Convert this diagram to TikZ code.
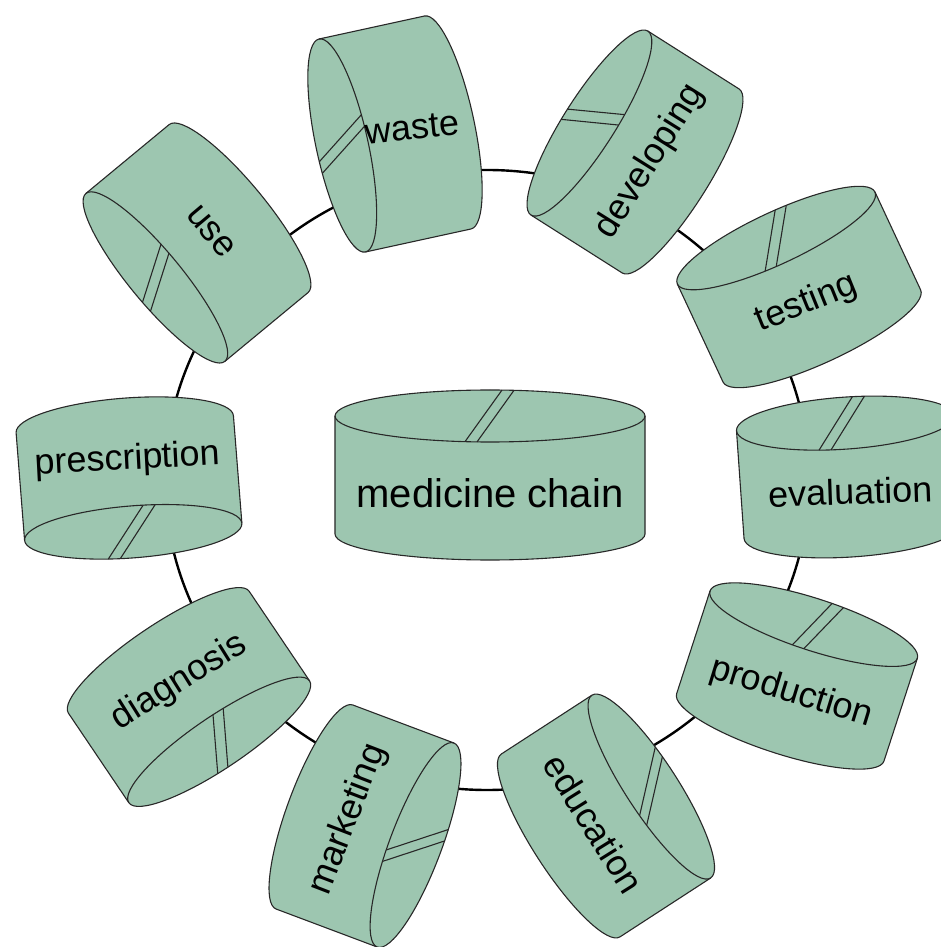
\documentclass[tikz,border=0pt]{standalone}
\usepackage{fontspec}
\setmainfont{Liberation Sans}
\definecolor{pillgreen}{RGB}{157,198,176}
\definecolor{pillline}{RGB}{40,40,40}

\tikzset{
  outerpill/.code={\def\pw{109}\def\ph{54}\def\pe{26}\def\pty{-18}\def\pxh{18.7pt}\def\pfont{\fontsize{36}{43}\selectfont}},
  centerpill/.code={\def\pw{155}\def\ph{59}\def\pe{26}\def\pty{-22.6}\def\pxh{20.8pt}\def\pfont{\fontsize{40}{48}\selectfont}},
  pillbody/.style={fill=pillgreen, draw=pillline, line width=1.1pt, line join=round},
  pilledge/.style={draw=pillline, line width=1.1pt},
  pilltext/.style={font=\pfont, inner sep=0pt, text height=\pxh, text depth=0pt},
  ringline/.style={line width=2.4pt}
}

% size, name, centre, shape angle, flip, text angle, score far x, score near x, text
\newcommand{\pill}[9]{%
  \begin{scope}[#1, shift={#3}, rotate=#4, yscale=#5]
    \draw[pillbody] (-\pw,\ph) -- (-\pw,-\ph)
      arc[start angle=180, end angle=360, x radius=\pw, y radius=\pe]
      -- (\pw,\ph)
      arc[start angle=0, end angle=180, x radius=\pw, y radius=\pe] -- cycle;
    \draw[pilledge] (-\pw,\ph) arc[start angle=180, end angle=360, x radius=\pw, y radius=\pe];
    \foreach \s in {0,12}
      \draw[pilledge] ({#7+\s},{\ph+\pe*sqrt(1-((#7+\s)/\pw)^2)})
        -- ({#8+\s},{\ph-\pe*sqrt(1-((#8+\s)/\pw)^2)});
    \node[pilltext, rotate=#6] (#2) at (0,\pty) {#9};
  \end{scope}}

\begin{document}
\begin{tikzpicture}[x=1pt, y=1pt]
  \useasboundingbox (-487,-467) rectangle (453,480);
  \coordinate (hub) at (0,0);
  \draw[ringline] (hub) ellipse [x radius=322, y radius=310];

  \pill{centerpill}{medchain}{(3,5)}{0}{1}{0}{12}{-25}{medicine chain}
  \pill{outerpill}{use}{(-290,237)}{-50.4}{-1}{-50}{11}{-22}{use}
  \pill{outerpill}{waste}{(-92,346)}{102.3}{1}{6}{-23}{14}{waste}
  \pill{outerpill}{developing}{(148,328)}{57.6}{1}{58}{-12}{14}{developing}
  \pill{outerpill}{testing}{(312,193)}{25}{1}{22}{11}{-24}{testing}
  \pill{outerpill}{evaluation}{(362,3)}{4}{1}{2}{9}{-28}{evaluation}
  \pill{outerpill}{production}{(310,-196)}{-18}{1}{-17}{11}{-14}{production}
  \pill{outerpill}{education}{(119,-336)}{-57}{1}{-58}{-31}{18}{education}
  \pill{outerpill}{marketing}{(-122,-346)}{69.4}{-1}{69}{14}{-27}{marketing}
  \pill{outerpill}{diagnosis}{(-298,-217)}{34}{-1}{32}{-19}{10}{diagnosis}
  \pill{outerpill}{prescription}{(-358,2)}{4.5}{-1}{3}{-27}{12}{prescription}
\end{tikzpicture}
\end{document}
